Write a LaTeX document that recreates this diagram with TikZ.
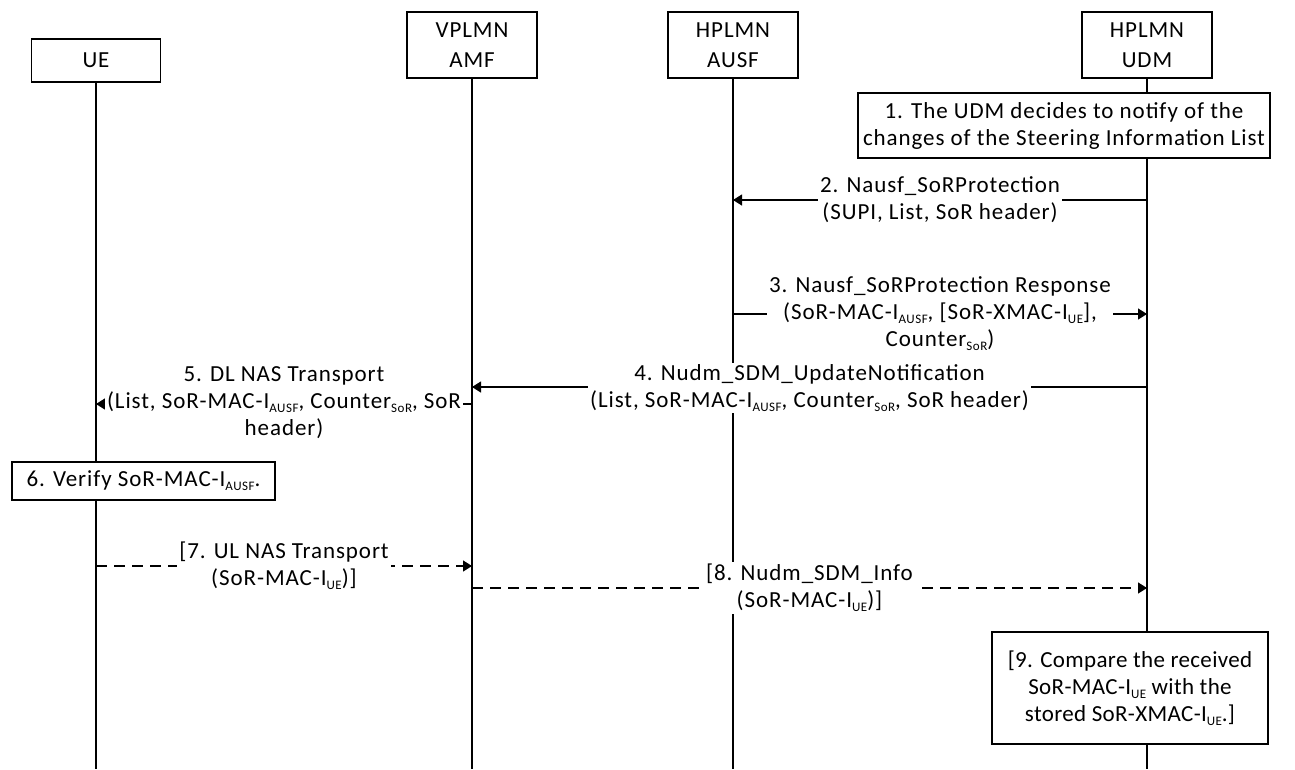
\documentclass[tikz,border=0pt]{standalone}
\usepackage{fontspec}
\setmainfont{Carlito}
\usetikzlibrary{arrows.meta}
% text styles: slightly tracked Carlito
\newcommand\lblfont{\fontsize{23}{27}\selectfont\addfontfeatures{LetterSpace=4}}
\newcommand\hdrfont{\fontsize{23}{30}\selectfont\addfontfeatures{LetterSpace=4}}
\newcommand\boxfont{\fontsize{23}{27}\selectfont\addfontfeatures{LetterSpace=1.5}}
% small lowered index text, as in SoR-MAC-I_AUSF
\newcommand\sbs[1]{\raisebox{-0.35ex}{\fontsize{13}{13}\selectfont #1}}
\begin{document}
\begin{tikzpicture}[x=1pt,y=-1pt,
  line width=1.3pt,
  actor/.style={draw, fill=white, align=center, inner sep=0pt,
    minimum width=130pt, minimum height=66pt, font=\hdrfont},
  actionbox/.style={draw, fill=white, align=center, inner sep=0pt,
    font=\lblfont},
  lbl/.style={fill=white, align=center, inner sep=2pt, font=\lblfont},
  msg/.style={-{Triangle[length=9pt,width=11pt]}},
  optmsg/.style={msg, dash pattern=on 11pt off 7pt},
]
\useasboundingbox (0,0) rectangle (1295,769);

% lifeline positions
\def\xUE{96}
\def\xAMF{472}
\def\xAUSF{733}
\def\xUDM{1147}

% participants
\node[actor, minimum width=129pt, minimum height=43pt] (ue) at (\xUE,60.5) {UE};
\node[actor] (amf)  at (\xAMF,45)  {VPLMN\\AMF};
\node[actor] (ausf) at (\xAUSF,45) {HPLMN\\AUSF};
\node[actor] (udm)  at (\xUDM,45)  {HPLMN\\UDM};

% lifeline ends
\coordinate (ueEnd)   at (\xUE,769);
\coordinate (amfEnd)  at (\xAMF,769);
\coordinate (ausfEnd) at (\xAUSF,769);
\coordinate (udmEnd)  at (\xUDM,769);

\draw (ue.south)   -- (ueEnd);
\draw (amf.south)  -- (amfEnd);
\draw (ausf.south) -- (ausfEnd);
\draw (udm.south)  -- (udmEnd);

% message end points on the lifelines
\coordinate (m2a) at (\xUDM,200);  \coordinate (m2b) at (\xAUSF,200);
\coordinate (m3a) at (\xAUSF,314); \coordinate (m3b) at (\xUDM,314);
\coordinate (m4a) at (\xUDM,387);  \coordinate (m4b) at (\xAMF,387);
\coordinate (m5a) at (\xAMF,404);  \coordinate (m5b) at (\xUE,404);
\coordinate (m7a) at (\xUE,566);   \coordinate (m7b) at (\xAMF,566);
\coordinate (m8a) at (\xAMF,588);  \coordinate (m8b) at (\xUDM,588);

% messages
\draw[msg] (m2a) -- (m2b);
\draw[msg] (m3a) -- (m3b);
\draw[msg] (m4a) -- (m4b);
\draw[msg] (m5a) -- (m5b);
\draw[optmsg] (m7a) -- (m7b);
\draw[optmsg] (m8a) -- (m8b);

% message labels
\node[lbl] (t2) at (940,200) {2. Nausf\_SoRProtection\\(SUPI, List, SoR header)};
\node[lbl] (t3) at (940,314) {3. Nausf\_SoRProtection Response\\(SoR-MAC-I\sbs{AUSF}, [SoR-XMAC-I\sbs{UE}],\\Counter\sbs{SoR})};
\node[lbl] (t4) at (809.5,388) {4. Nudm\_SDM\_UpdateNotification\\(List, SoR-MAC-I\sbs{AUSF}, Counter\sbs{SoR}, SoR header)};
\node[lbl] (t5) at (284,403) {5. DL NAS Transport\\(List, SoR-MAC-I\sbs{AUSF}, Counter\sbs{SoR}, SoR\\header)};
\node[lbl] (t7) at (284,566) {[7. UL NAS Transport\\(SoR-MAC-I\sbs{UE})]};
\node[lbl] (t8) at (809.5,588) {[8. Nudm\_SDM\_Info\\(SoR-MAC-I\sbs{UE})]};

% local actions
\node[actionbox, minimum width=412pt, minimum height=65pt] (s1) at (1064,125.5)
  {1. The UDM decides to notify of the\\changes of the Steering Information List};
\node[actionbox, minimum width=263pt, minimum height=38pt] (s6) at (143.5,481)
  {6. Verify SoR-MAC-I\sbs{AUSF}.};
\node[actionbox, font=\boxfont, minimum width=276pt, minimum height=112pt] (s9) at (1130,688)
  {[9. Compare the received\\SoR-MAC-I\sbs{UE} with the\\stored SoR-XMAC-I\sbs{UE}.]};
\end{tikzpicture}
\end{document}
